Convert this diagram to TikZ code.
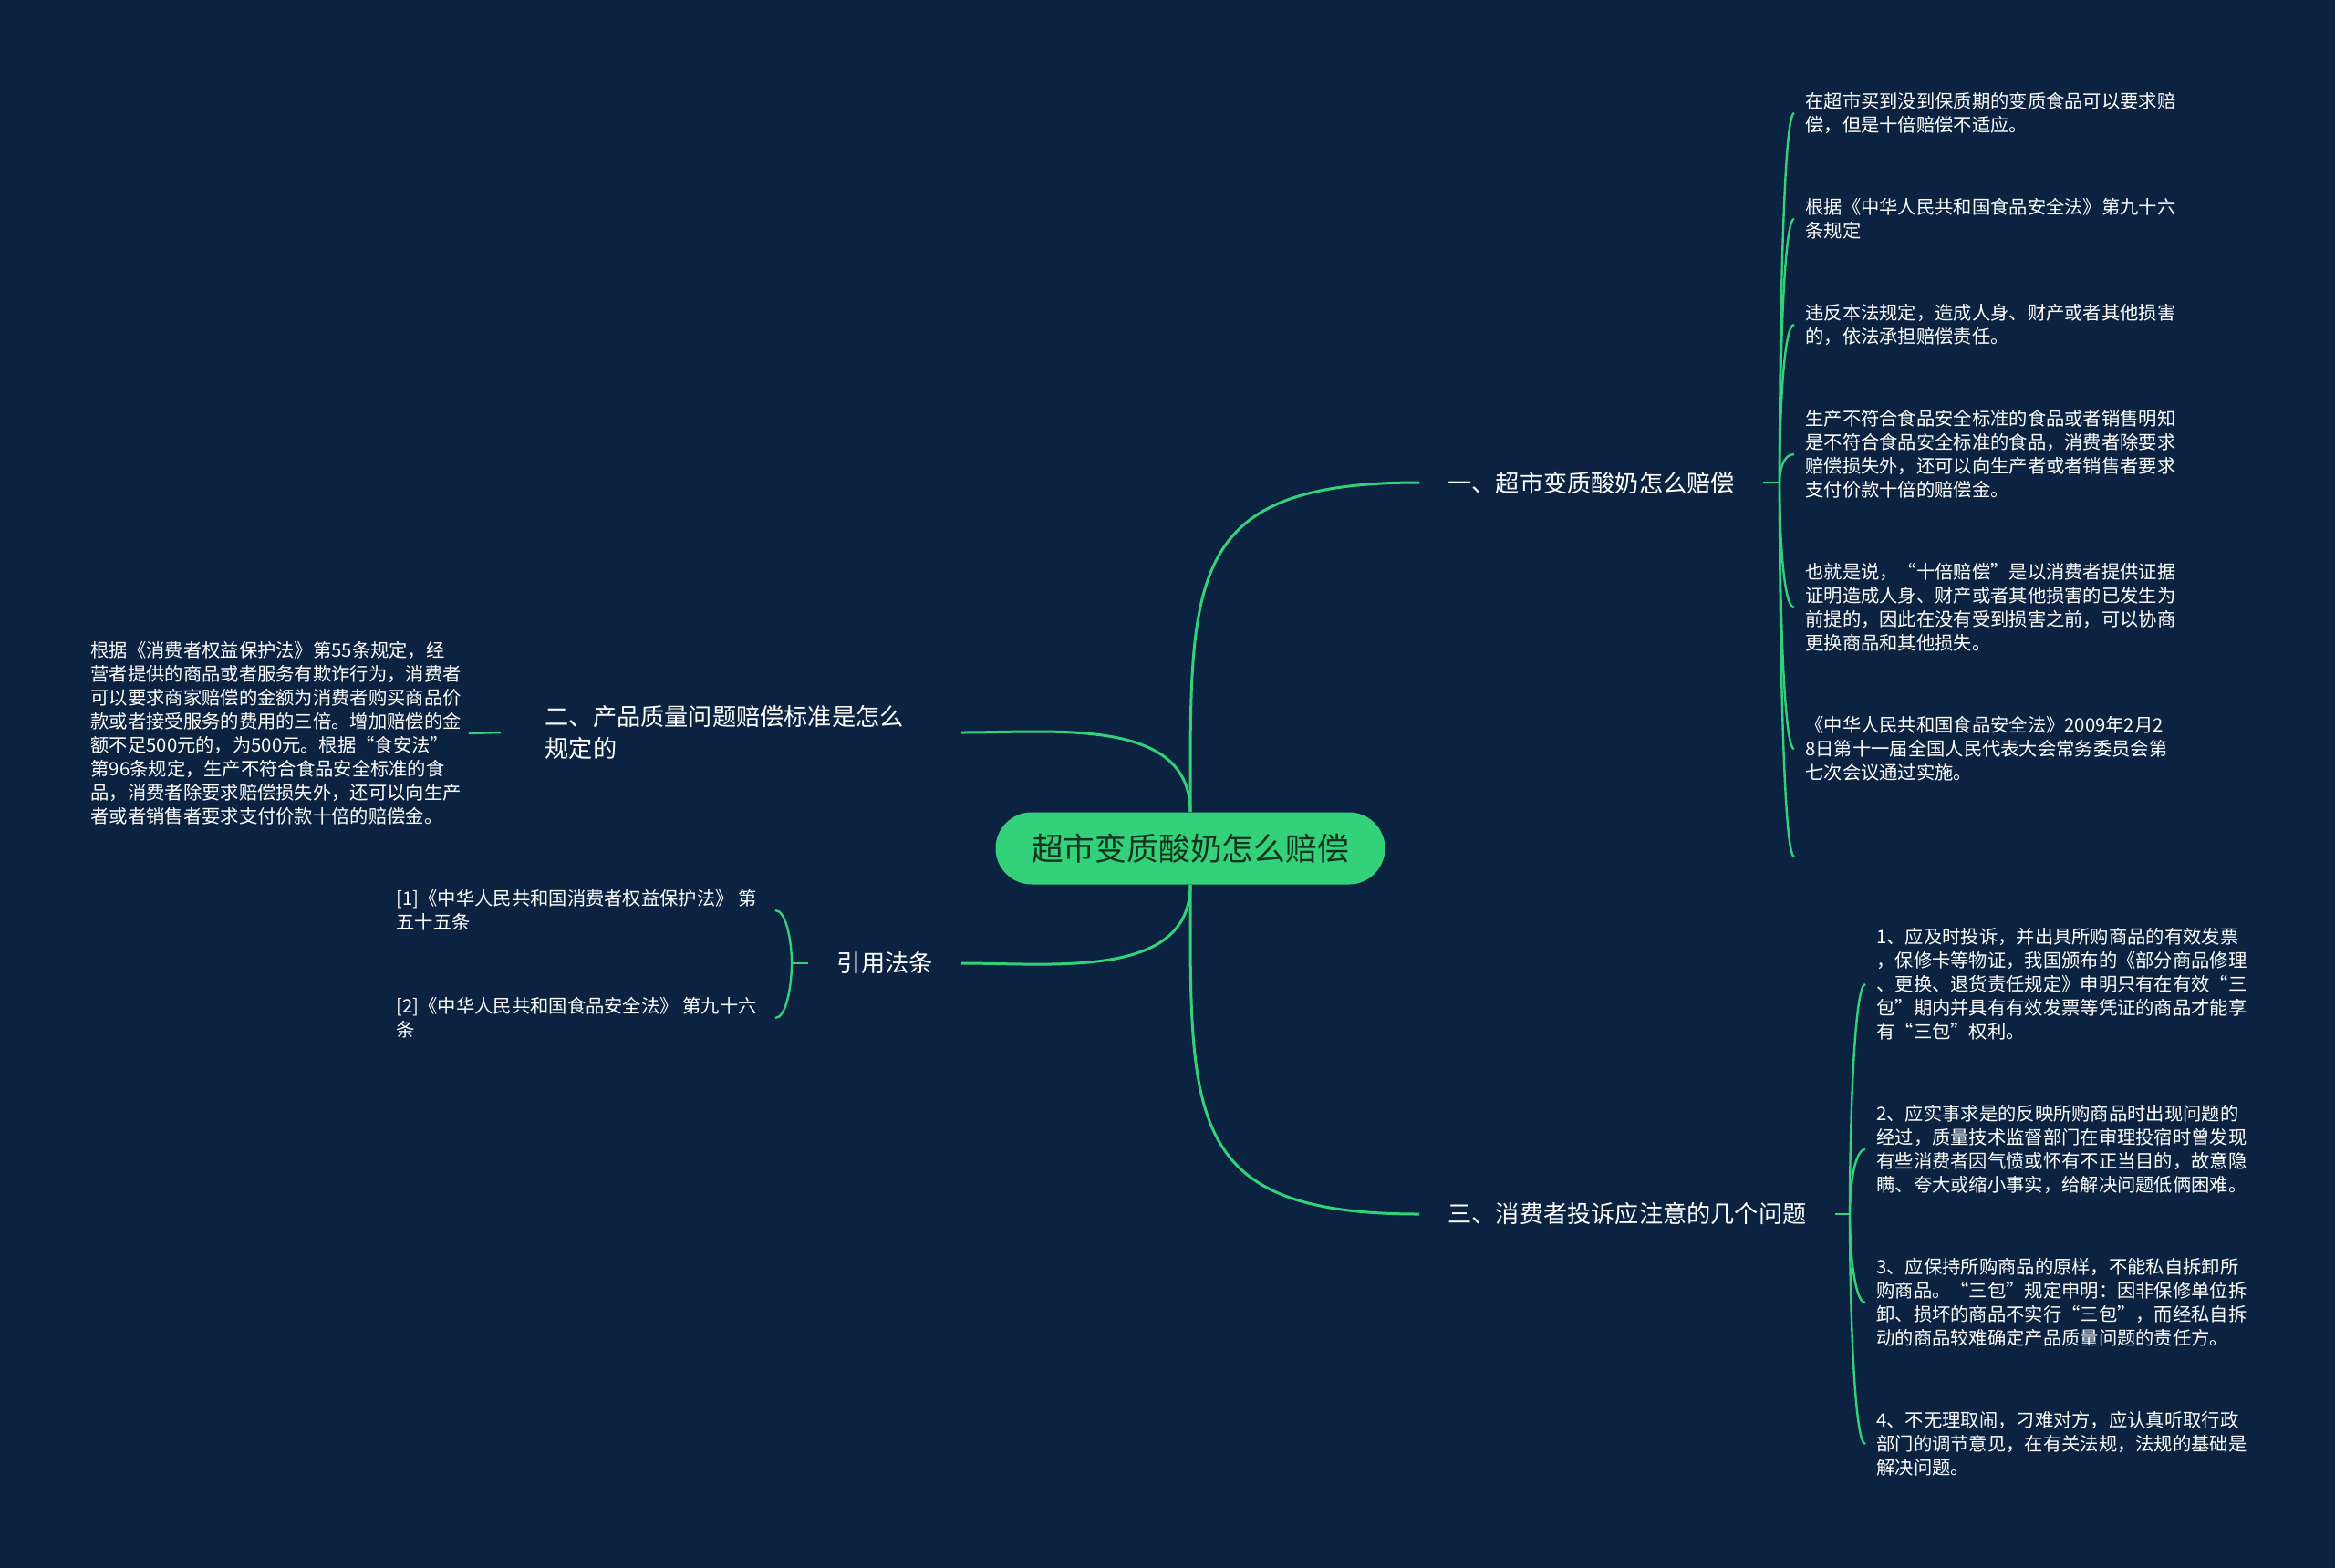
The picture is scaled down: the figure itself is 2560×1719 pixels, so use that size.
\documentclass[tikz,border=0pt]{standalone}
\usepackage{fontspec}
\setmainfont{Noto Sans CJK SC}
\usepackage{xcolor}
\usepackage{tikz}
\definecolor{bgnavy}{HTML}{0B2340}
\definecolor{mmgreen}{HTML}{33D17A}
\definecolor{rootink}{HTML}{14331F}

\begin{document}
\begin{tikzpicture}[x=0.5pt,y=-0.5pt,
  root/.style={fill=mmgreen, rounded corners=19.75pt, minimum width=213.5pt, minimum height=39.5pt, text=rootink, font=\fontsize{17.4pt}{20pt}\selectfont},
  branch/.style={text=white, inner xsep=15.5pt, inner ysep=2pt, align=left, font=\fontsize{13.1pt}{17.5pt}\selectfont},
  leaf/.style={text=white, inner xsep=6pt, inner ysep=0pt, align=left, font=\fontsize{10.15pt}{13pt}\selectfont},
  link/.style={draw=mmgreen, line width=1.5pt},
  twig/.style={draw=mmgreen, line width=1.2pt}]
\fill[bgnavy] (0,0) rectangle (2560,1719);
\useasboundingbox (0,0) rectangle (2560,1719);

\node[root] (root) at (1305,930) {超市变质酸奶怎么赔偿};

\node[branch, anchor=west] (b1) at (1556,529) {一、超市变质酸奶怎么赔偿};
\node[branch, anchor=east, inner xsep=24pt, text width=204pt] (b2) at (1054,803) {二、产品质量问题赔偿标准是怎么\\规定的};
\node[branch, anchor=west] (b3) at (1556,1331) {三、消费者投诉应注意的几个问题};
\node[branch, anchor=east] (b4) at (1054,1056) {引用法条};

\coordinate (k1) at (1951,529);
\coordinate (k3) at (2028,1331);
\coordinate (k4) at (868,1056);

\node[leaf, anchor=west] (a1) at (1967,124) {在超市买到没到保质期的变质食品可以要求赔\\偿，但是十倍赔偿不适应。};
\node[leaf, anchor=west] (a2) at (1967,240) {根据《中华人民共和国食品安全法》第九十六\\条规定};
\node[leaf, anchor=west] (a3) at (1967,356) {违反本法规定，造成人身、财产或者其他损害\\的，依法承担赔偿责任。};
\node[leaf, anchor=west] (a4) at (1967,498) {生产不符合食品安全标准的食品或者销售明知\\是不符合食品安全标准的食品，消费者除要求\\赔偿损失外，还可以向生产者或者销售者要求\\支付价款十倍的赔偿金。};
\node[leaf, anchor=west] (a5) at (1967,666) {也就是说，“十倍赔偿”是以消费者提供证据\\证明造成人身、财产或者其他损害的已发生为\\前提的，因此在没有受到损害之前，可以协商\\更换商品和其他损失。};
\node[leaf, anchor=west] (a6) at (1967,821) {《中华人民共和国食品安全法》2009年2月2\\8日第十一届全国人民代表大会常务委员会第\\七次会议通过实施。};
\node[inner sep=0pt, anchor=west] (a7) at (1967,939) {};

\node[leaf, anchor=east, inner xsep=4pt] (d1) at (514,804) {根据《消费者权益保护法》第55条规定，经\\营者提供的商品或者服务有欺诈行为，消费者\\可以要求商家赔偿的金额为消费者购买商品价\\款或者接受服务的费用的三倍。增加赔偿的金\\额不足500元的，为500元。根据“食安法”\\第96条规定，生产不符合食品安全标准的食\\品，消费者除要求赔偿损失外，还可以向生产\\者或者销售者要求支付价款十倍的赔偿金。};

\node[leaf, anchor=west] (c1) at (2045,1079) {1、应及时投诉，并出具所购商品的有效发票\\，保修卡等物证，我国颁布的《部分商品修理\\、更换、退货责任规定》申明只有在有效“三\\包”期内并具有有效发票等凭证的商品才能享\\有“三包”权利。};
\node[leaf, anchor=west] (c2) at (2045,1260) {2、应实事求是的反映所购商品时出现问题的\\经过，质量技术监督部门在审理投宿时曾发现\\有些消费者因气愤或怀有不正当目的，故意隐\\瞒、夸大或缩小事实，给解决问题低俩困难。};
\node[leaf, anchor=west] (c3) at (2045,1428) {3、应保持所购商品的原样，不能私自拆卸所\\购商品。“三包”规定申明：因非保修单位拆\\卸、损坏的商品不实行“三包”，而经私自拆\\动的商品较难确定产品质量问题的责任方。};
\node[leaf, anchor=west] (c4) at (2045,1583) {4、不无理取闹，刁难对方，应认真听取行政\\部门的调节意见，在有关法规，法规的基础是\\解决问题。};

\node[leaf, anchor=east, inner xsep=10pt] (r1) at (850,998) {[1]《中华人民共和国消费者权益保护法》 第\\五十五条};
\node[leaf, anchor=east, inner xsep=10pt] (r2) at (850,1116) {[2]《中华人民共和国食品安全法》 第九十六\\条};

\draw[link] (root.north) to[out=90,in=180,looseness=1.5] (b1.west);
\draw[link] (root.north) to[out=90,in=0] (b2.east);
\draw[link] (root.south) to[out=-90,in=180,looseness=1.5] (b3.west);
\draw[link] (root.south) to[out=-90,in=0] (b4.east);

\draw[twig] (b1.east) -- (k1);
\foreach \n/\o in {a1/90,a2/90,a3/90,a4/90,a5/-90,a6/-90,a7/-90}
  \draw[twig] (k1) to[out=\o,in=180,in distance=6pt] (\n.west);
\draw[twig] (b3.east) -- (k3);
\foreach \n/\o in {c1/90,c2/90,c3/-90,c4/-90}
  \draw[twig] (k3) to[out=\o,in=180,in distance=6pt] (\n.west);
\draw[twig] (b4.west) -- (k4);
\foreach \n/\o in {r1/90,r2/-90}
  \draw[twig] (k4) to[out=\o,in=0,in distance=6pt] (\n.east);
\draw[twig] (b2.west) -- (d1.east);
\end{tikzpicture}
\end{document}
